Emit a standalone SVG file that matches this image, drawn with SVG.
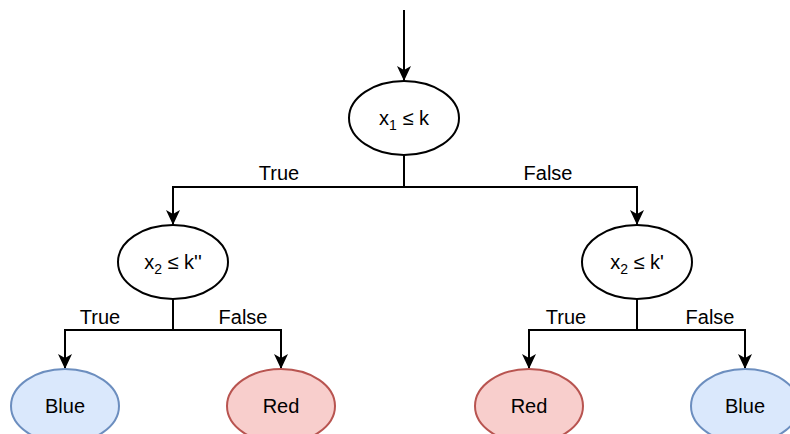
<svg xmlns="http://www.w3.org/2000/svg" width="790" height="434" viewBox="0 0 790 434">
<style>
.n{fill:#ffffff;stroke:#000;stroke-width:2}
.b{fill:#dae8fc;stroke:#6c8ebf;stroke-width:2}
.r{fill:#f8cecc;stroke:#b85450;stroke-width:2}
.t{font-family:"Liberation Sans",Arial,sans-serif;font-size:20px;fill:#000;text-anchor:middle}
.e{fill:none;stroke:#000;stroke-width:2}
</style>
<defs>
<marker id="a" viewBox="0 0 15 14" refX="15" refY="7" markerWidth="15" markerHeight="14" markerUnits="userSpaceOnUse" orient="auto">
<path d="M0,0 L15,7 L0,14 L4,7 Z" fill="#000"/>
</marker>
</defs>
<g id="edges">
<path class="e" d="M404,10 V81" marker-end="url(#a)"/>
<path class="e" d="M404,155 V187 H173 V225" marker-end="url(#a)"/>
<path class="e" d="M404,155 V187 H637 V225" marker-end="url(#a)"/>
<path class="e" d="M173,299 V330 H65 V369" marker-end="url(#a)"/>
<path class="e" d="M173,299 V330 H281 V369" marker-end="url(#a)"/>
<path class="e" d="M637,299 V330 H529 V369" marker-end="url(#a)"/>
<path class="e" d="M637,299 V330 H745 V369" marker-end="url(#a)"/>
<text class="t" x="279" y="180">True</text>
<text class="t" x="548" y="180">False</text>
<text class="t" x="100" y="324">True</text>
<text class="t" x="243" y="324">False</text>
<text class="t" x="566" y="324">True</text>
<text class="t" x="710" y="324">False</text>
</g>
<g id="root">
<ellipse class="n" cx="404" cy="118" rx="55" ry="37"/>
<text class="t" x="404" y="125">x<tspan font-size="14" dy="5">1</tspan><tspan dy="-5"> ≤ k</tspan></text>
</g>
<g id="left">
<ellipse class="n" cx="173" cy="262" rx="55" ry="37"/>
<text class="t" x="173" y="269">x<tspan font-size="14" dy="5">2</tspan><tspan dy="-5"> ≤ k''</tspan></text>
</g>
<g id="right">
<ellipse class="n" cx="637" cy="262" rx="55" ry="37"/>
<text class="t" x="637" y="269">x<tspan font-size="14" dy="5">2</tspan><tspan dy="-5"> ≤ k'</tspan></text>
</g>
<g id="leaf1">
<ellipse class="b" cx="65" cy="406" rx="54" ry="37"/>
<text class="t" x="65" y="413">Blue</text>
</g>
<g id="leaf2">
<ellipse class="r" cx="281" cy="406" rx="54" ry="37"/>
<text class="t" x="281" y="413">Red</text>
</g>
<g id="leaf3">
<ellipse class="r" cx="529" cy="406" rx="54" ry="37"/>
<text class="t" x="529" y="413">Red</text>
</g>
<g id="leaf4">
<ellipse class="b" cx="745" cy="406" rx="54" ry="37"/>
<text class="t" x="745" y="413">Blue</text>
</g>
</svg>
